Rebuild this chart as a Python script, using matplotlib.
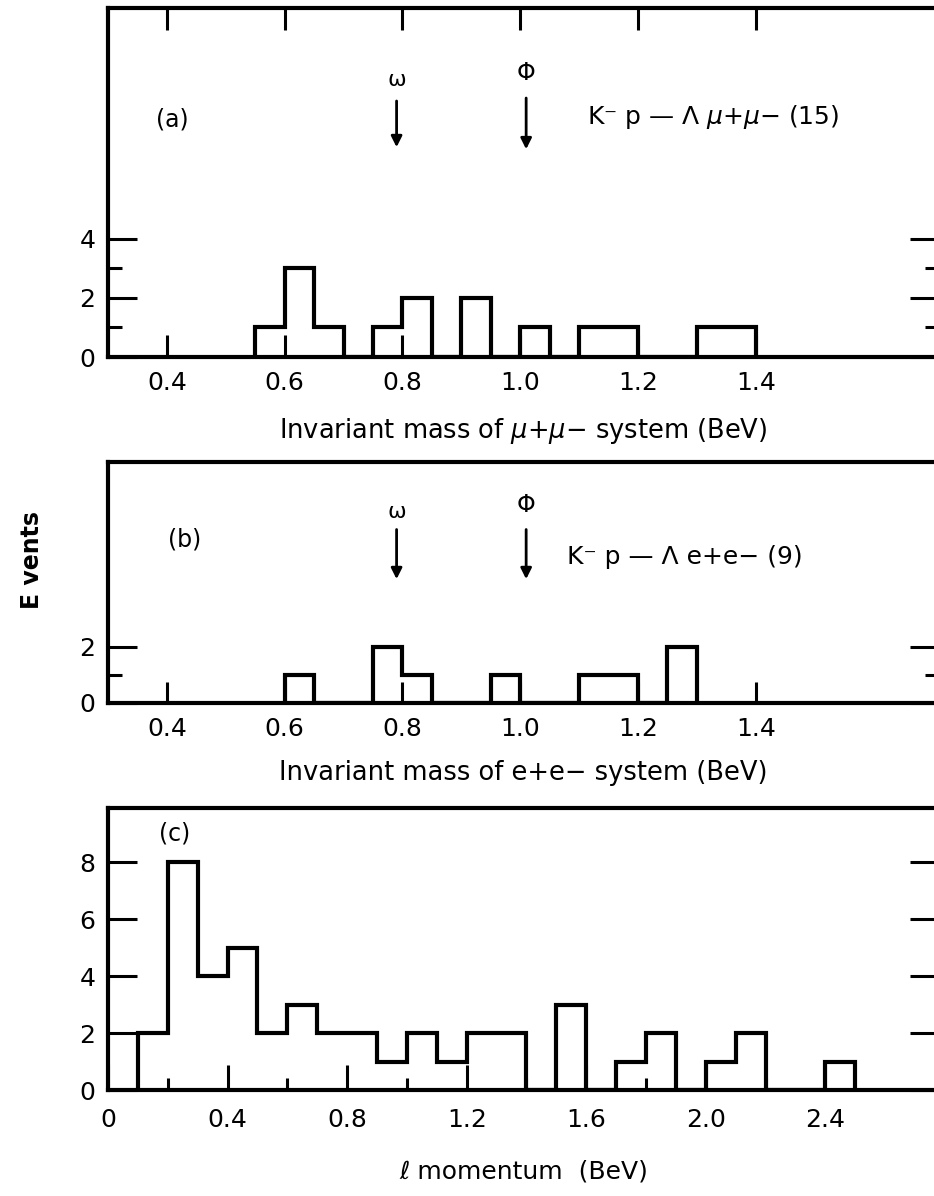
import numpy as np
import matplotlib
matplotlib.use("Agg")
import matplotlib.pyplot as plt

# ---------------- data ----------------
# (a) K- p -> Lambda mu+ mu-, 15 events, bins of 0.05 BeV
a_edges = [0.55, 0.60, 0.65, 0.70, 0.75, 0.80, 0.85, 0.90, 0.95, 1.00,
           1.05, 1.10, 1.15, 1.20, 1.25, 1.30, 1.35, 1.40]
a_counts = [1, 3, 1, 0, 1, 2, 0, 2, 0, 1, 0, 1, 1, 0, 0, 1, 1]

# (b) K- p -> Lambda e+ e-, 9 events
b_edges = [0.60, 0.65, 0.70, 0.75, 0.80, 0.85, 0.90, 0.95, 1.00, 1.05,
           1.10, 1.15, 1.20, 1.25, 1.30]
b_counts = [1, 0, 0, 2, 1, 0, 0, 1, 0, 0, 1, 1, 0, 2]

# (c) lepton momentum, bins of 0.1 BeV
c_edges = [0.1, 0.2, 0.3, 0.4, 0.5, 0.6, 0.7, 0.8, 0.9, 1.0, 1.1, 1.2, 1.3,
           1.4, 1.5, 1.6, 1.7, 1.8, 1.9, 2.0, 2.1, 2.2, 2.3, 2.4, 2.5]
c_counts = [2, 8, 4, 5, 2, 3, 2, 2, 1, 2, 1, 2, 2, 0, 3, 0, 1, 2, 0, 1, 2, 0, 0, 1]

mass_ticks = [0.4, 0.6, 0.8, 1.0, 1.2, 1.4]
mass_labels = ["0.4", "0.6", "0.8", "1.0", "1.2", "1.4"]
mom_ticks = [0, 0.4, 0.8, 1.2, 1.6, 2.0, 2.4]
mom_labels = ["0", "0.4", "0.8", "1.2", "1.6", "2.0", "2.4"]

omega_mass = 0.79   # arrow positions as drawn
phi_mass = 1.01

# ---------------- style ----------------
plt.rcParams['font.family'] = ['DejaVu Sans']
plt.rcParams['font.size'] = 18
LW = 3.0
fig = plt.figure(figsize=(9.34, 11.96), dpi=100)

W, H = 934.0, 1196.0
def place(top, bottom, left=108, right=939):
    # pixel box -> figure fraction
    return [left / W, 1 - bottom / H, (right - left) / W, (bottom - top) / H]

axa = fig.add_axes(place(8, 357))
axb = fig.add_axes(place(462, 703))
axc = fig.add_axes(place(808, 1090))

def frame(ax):
    for s in ax.spines.values():
        s.set_linewidth(LW)
    ax.tick_params(which='both', direction='in', width=2.2, colors='black',
                   labelsize=18)
    ax.tick_params(axis='x', which='major', length=15, pad=10)
    ax.tick_params(axis='x', which='minor', length=9)
    ax.tick_params(axis='y', which='major', length=21, pad=9, right=True)
    ax.tick_params(axis='y', which='minor', length=10, right=True)

# ---------------- (a) ----------------
axa.stairs(a_counts, a_edges, baseline=0, fill=False, color='black', lw=LW)
axa.set_xlim(0.3, 1.711)
axa.set_ylim(0, 11.8)
axa.set_xticks(mass_ticks)
axa.set_xticklabels(mass_labels)
axa.set_yticks([0, 2, 4])
axa.set_yticks([1, 3], minor=True)
frame(axa)
axa.tick_params(axis='x', which='major', top=True, length=16)
axa.set_xlabel("Invariant mass of $\\mu$+$\\mu$\u2212 system (BeV)",
               fontsize=18.5, labelpad=15)
axa.text(0.41, 8.04, "(a)", ha='center', va='center', fontsize=17)
axa.text(omega_mass, 9.36, "\u03c9", ha='center', va='center', fontsize=16)
axa.annotate('', xy=(omega_mass, 7.0), xytext=(omega_mass, 8.75),
             arrowprops=dict(arrowstyle='-|>', lw=2, color='black', mutation_scale=16))
axa.text(phi_mass, 9.6, "\u03a6", ha='center', va='center', fontsize=17)
axa.annotate('', xy=(phi_mass, 6.93), xytext=(phi_mass, 8.85),
             arrowprops=dict(arrowstyle='-|>', lw=2, color='black', mutation_scale=16))
axa.text(1.113, 8.1, "K\u207b p \u2014 \u039b $\\mu$+$\\mu$\u2212 (15)",
         ha='left', va='center', fontsize=18)

# ---------------- (b) ----------------
axb.stairs(b_counts, b_edges, baseline=0, fill=False, color='black', lw=LW)
axb.set_xlim(0.3, 1.711)
axb.set_ylim(0, 8.6)
axb.set_xticks(mass_ticks)
axb.set_xticklabels(mass_labels)
axb.set_yticks([0, 2])
axb.set_yticks([1], minor=True)
frame(axb)
axb.set_xlabel("Invariant mass of e+e\u2212 system (BeV)", fontsize=18.5, labelpad=14)
axb.text(0.43, 5.82, "(b)", ha='center', va='center', fontsize=17)
axb.text(omega_mass, 6.82, "\u03c9", ha='center', va='center', fontsize=16)
axb.annotate('', xy=(omega_mass, 4.32), xytext=(omega_mass, 6.29),
             arrowprops=dict(arrowstyle='-|>', lw=2, color='black', mutation_scale=16))
axb.text(phi_mass, 7.07, "\u03a6", ha='center', va='center', fontsize=17)
axb.annotate('', xy=(phi_mass, 4.32), xytext=(phi_mass, 6.29),
             arrowprops=dict(arrowstyle='-|>', lw=2, color='black', mutation_scale=16))
axb.text(1.079, 5.21, "K\u207b p \u2014 \u039b e+e\u2212 (9)",
         ha='left', va='center', fontsize=18)

# ---------------- (c) ----------------
axc.stairs(c_counts, c_edges, baseline=0, fill=False, color='black', lw=LW)
axc.set_xlim(0, 2.78)
axc.set_ylim(0, 9.9)
axc.set_xticks(mom_ticks)
axc.set_xticklabels(mom_labels)
axc.set_xticks([0.2, 0.6, 1.0, 1.4, 1.8, 2.2], minor=True)
axc.set_yticks([0, 2, 4, 6, 8])
frame(axc)
axc.tick_params(axis='x', which='major', length=18, pad=13)
axc.set_xlabel("\u2113 momentum  (BeV)", fontsize=18, labelpad=20)
axc.text(0.224, 9.02, "(c)", ha='center', va='center', fontsize=17)

# shared y label
fig.text(0.034, 1 - 560 / H, "E vents", rotation=90, ha='center', va='center',
         fontsize=17, fontweight='bold')

fig.savefig("out.png", dpi=100)
